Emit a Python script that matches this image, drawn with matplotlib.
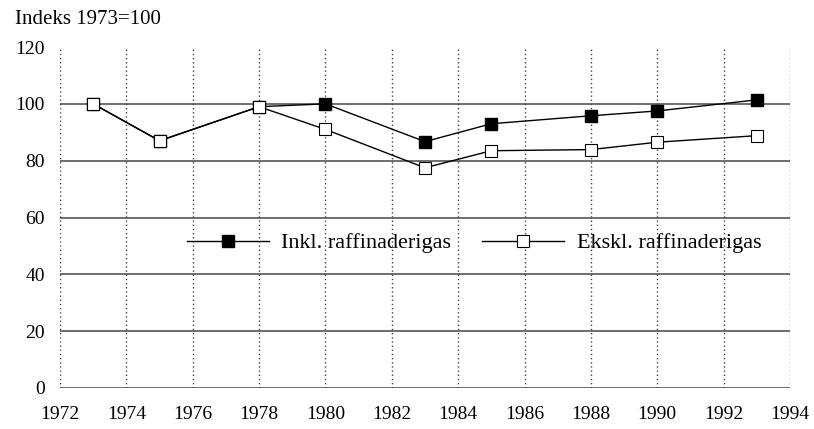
import matplotlib
matplotlib.use('Agg')
import matplotlib.pyplot as plt

plt.rcParams['font.family'] = ['Liberation Serif', 'DejaVu Serif']

# data (index 1973=100)
years = [1973, 1975, 1978, 1980, 1983, 1985, 1988, 1990, 1993]
inkl = [100, 87, 99, 100, 86.7, 93, 95.8, 97.5, 101.4]
ekskl = [100, 87, 99, 91, 77.5, 83.5, 83.9, 86.5, 88.8]

fig = plt.figure(figsize=(8.14, 4.29), dpi=100)
ax = fig.add_axes([0.0737, 0.0956, 0.8968, 0.7948])

ax.plot(years, inkl, color='black', lw=1, marker='s', ms=8.5,
        mfc='black', mec='black', label='Inkl. raffinaderigas', zorder=3)
ax.plot(years, ekskl, color='black', lw=1, marker='s', ms=8.5,
        mfc='white', mec='black', mew=0.8, label='Ekskl. raffinaderigas', zorder=4)

ax.set_xlim(1972, 1994)
ax.set_ylim(0, 120)
ax.set_xticks(range(1972, 1995, 2))
ax.set_yticks(range(0, 121, 20))

# grid: solid horizontals, dotted verticals
for y in range(0, 101, 20):
    ax.axhline(y, color='#555555', lw=1.2, zorder=1)
for x in range(1972, 1995, 2):
    ax.axvline(x, color='#444444', lw=1, ls=(0, (1, 2)), zorder=1)

for s in ax.spines.values():
    s.set_visible(False)
ax.tick_params(length=0, labelsize=14)
ax.tick_params(axis='x', pad=13)
ax.tick_params(axis='y', pad=11)

fig.text(0.018, 0.955, 'Indeks 1973=100', fontsize=15, va='center', ha='left')

ax.legend(loc='center', bbox_to_anchor=(0.567, 0.425), ncol=2, frameon=False,
          fontsize=16, handlelength=3.7, columnspacing=1.4, handletextpad=0.55)

plt.savefig('out.png')
